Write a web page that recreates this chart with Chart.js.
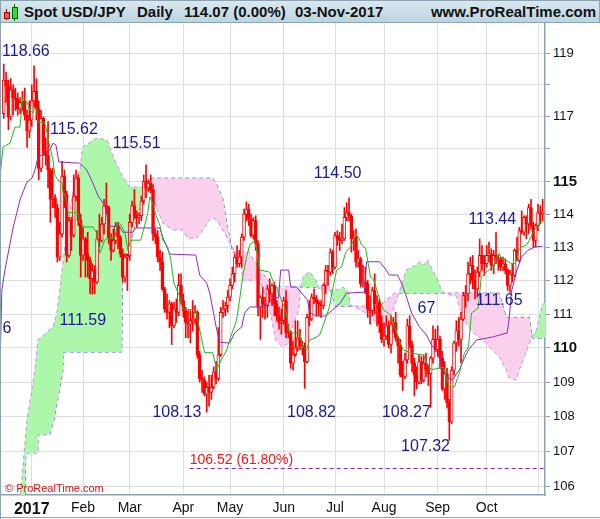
<!DOCTYPE html>
<html>
<head>
<meta charset="utf-8">
<script src="https://cdn.jsdelivr.net/npm/chart.js@4.4.0/dist/chart.umd.min.js"></script>
<style>
  body { margin: 0; background: #fff; }
  #wrap { position: relative; width: 600px; height: 519px; overflow: hidden; font-family: "Liberation Sans", Arial, sans-serif; }
  #hdr { position: absolute; left: 0; top: 0; width: 598px; height: 21px; border: 1px solid #8ea3b0; background: linear-gradient(#d8e8ef, #bcd5e1); }
  #hdr span { position: absolute; top: 0; line-height: 22px; font-weight: bold; font-size: 15px; color: #111; white-space: nowrap; }
  .ic { position: absolute; }
  canvas { position: absolute; left: 0; top: 22px; }
</style>
</head>
<body>
<div id="wrap">
  <div id="hdr">
    <div class="ic" style="left:5px;top:8px;width:1px;height:11px;background:#900"></div>
    <div class="ic" style="left:3px;top:11px;width:4px;height:5px;background:#f55;border:1px solid #900"></div>
    <div class="ic" style="left:13px;top:3px;width:1px;height:17px;background:#060"></div>
    <div class="ic" style="left:11px;top:6px;width:4px;height:10px;background:#3d3;border:1px solid #060"></div>
    <span style="left:23px">Spot USD/JPY</span>
    <span style="left:136px">Daily</span>
    <span style="left:183px">114.07 (0.00%)</span>
    <span style="left:294px">03-Nov-2017</span>
    <span style="right:3px">www.ProRealTime.com</span>
  </div>
  <canvas id="c" width="600" height="497"></canvas>
</div>
<script>
// trading-day index 0 = 2 Jan 2017, first bar = 15 Dec 2016
const firstDay = -12;

const opens = [
  117.10,118.15,117.95,117.00,117.85,117.60,117.55,117.25,117.45,117.50,117.05,116.55,
  116.90,117.50,117.80,117.25,115.40,116.95,115.95,115.80,115.35,114.45,114.50,114.20,112.70,113.40,115.15,114.60,112.75,113.80,113.35,114.55,115.10,113.80,
  112.75,113.25,112.80,112.60,112.05,112.30,111.95,113.25,113.20,113.70,114.25,114.20,113.25,112.90,113.20,113.65,113.30,112.80,112.10,112.70,
  112.75,113.75,114.25,113.95,113.90,113.95,114.40,115.00,114.80,114.95,114.75,113.40,113.30,112.70,112.55,111.75,111.15,111.05,111.30,110.65,111.15,111.05,111.85,
  111.40,111.10,110.75,110.70,110.80,110.85,111.05,109.80,109.10,109.05,108.65,108.85,108.70,108.85,109.30,109.10,109.80,111.05,111.15,111.25,
  111.50,111.85,112.20,112.70,112.50,112.70,113.30,114.00,114.15,113.85,113.35,113.80,113.10,111.20,111.50,111.30,111.25,111.75,111.60,111.85,111.30,110.95,110.75,
  110.80,111.40,110.45,110.45,109.55,109.80,110.00,110.30,110.05,110.05,109.60,110.90,110.85,111.50,111.45,111.35,111.30,111.25,111.85,112.30,112.25,112.85,
  112.40,113.35,113.25,113.20,113.25,113.90,114.05,113.95,113.25,113.30,112.55,112.65,111.90,111.95,111.90,111.15,111.10,111.70,111.30,111.35,110.70,
  110.25,110.35,110.65,110.10,110.70,110.75,110.30,110.05,109.20,109.15,109.65,110.65,110.10,109.55,109.20,109.00,109.60,109.05,109.55,109.35,109.25,109.70,110.25,
  109.95,110.25,109.70,108.80,109.25,108.40,107.85,109.35,110.15,110.50,110.25,110.85,111.55,111.60,112.20,112.45,112.00,111.75,112.25,112.75,112.50,
  112.50,112.75,112.80,112.45,112.75,112.60,112.65,112.40,112.50,112.30,111.85,112.20,112.15,112.90,112.60,113.50,113.45,113.90,113.70,114.20,113.65,113.20,113.65,114.05,114.00
];
const highs = [
  118.66,118.40,118.15,118.20,118.00,117.90,117.75,117.60,117.80,117.90,117.20,117.50,
  118.00,118.60,118.20,117.50,117.20,117.00,116.35,116.85,115.40,115.40,114.60,114.30,113.75,115.62,115.35,114.70,113.90,113.90,115.20,115.35,115.20,114.00,
  113.60,113.30,113.45,112.70,112.50,112.45,113.50,114.00,113.90,114.45,114.95,114.25,113.40,113.55,113.75,113.75,113.35,112.95,112.80,112.80,
  114.00,114.40,114.75,114.10,114.05,114.55,115.20,115.51,115.05,115.20,114.90,113.55,113.50,112.90,112.85,111.80,111.60,111.40,111.35,111.35,111.45,112.20,112.20,
  111.60,111.20,111.10,111.10,111.40,111.25,111.10,109.90,109.35,109.15,109.00,109.20,109.20,109.45,109.60,110.60,111.20,111.40,111.35,111.70,
  112.05,112.40,112.80,113.05,112.90,113.40,114.15,114.37,114.30,114.00,113.90,113.95,113.20,111.55,111.80,111.50,111.85,112.05,111.90,111.95,111.40,111.20,111.15,
  111.50,111.70,110.70,110.50,110.20,110.80,110.80,110.55,110.20,110.15,111.00,111.40,111.60,111.75,111.55,111.40,111.40,111.90,112.45,112.45,112.95,112.90,
  113.45,113.50,113.45,113.70,114.20,114.35,114.50,114.00,113.50,113.55,112.90,112.70,112.45,112.40,112.00,111.55,111.80,112.20,111.55,111.45,110.95,
  110.75,110.95,110.80,110.95,110.90,111.05,110.35,110.25,109.60,109.85,110.85,110.95,110.20,109.70,109.45,109.80,109.75,109.80,109.85,109.50,109.75,110.65,110.55,
  110.65,110.35,109.90,109.60,109.40,108.50,109.45,110.20,110.80,110.90,111.05,111.65,111.85,112.55,112.70,112.75,112.30,112.40,113.25,113.05,112.75,
  113.05,113.15,112.95,112.90,113.44,112.75,112.70,112.70,112.65,112.35,112.30,112.50,112.95,113.30,113.60,114.10,113.95,113.95,114.30,114.45,113.75,113.70,114.30,114.25,114.45
];
const lows = [
  116.95,117.45,116.60,116.90,117.05,117.20,117.05,117.10,117.20,116.90,116.05,116.35,
  116.70,117.30,116.90,115.05,115.30,115.80,115.50,114.80,113.75,114.20,113.90,112.55,112.60,113.30,114.20,112.55,112.70,112.90,113.30,114.40,113.65,112.10,
  112.60,112.10,112.10,111.60,111.59,111.60,111.90,113.00,113.15,113.40,114.00,113.10,112.60,112.85,113.10,112.95,112.70,111.95,111.95,111.70,
  112.60,113.60,113.85,113.60,113.70,113.80,114.30,114.50,114.70,114.65,113.20,113.10,112.55,112.30,111.70,111.05,110.85,110.60,110.10,110.60,110.75,110.95,111.30,
  110.90,110.30,110.30,110.15,110.50,110.70,109.70,109.00,108.70,108.60,108.13,108.30,108.50,108.80,108.95,109.05,109.75,110.90,110.95,111.05,
  111.40,111.75,111.95,112.40,112.40,112.40,113.20,113.80,113.65,113.30,113.25,112.90,110.95,110.25,110.90,110.85,110.90,111.35,111.25,110.95,110.80,110.55,110.40,
  110.70,110.30,110.30,109.40,109.35,109.75,109.90,109.95,109.80,108.82,109.55,110.65,110.80,111.30,110.95,110.95,110.90,111.15,111.60,111.85,112.15,112.20,
  112.35,113.05,112.90,113.10,113.20,113.80,113.80,112.85,112.90,112.40,112.40,111.80,111.80,111.60,110.90,110.70,110.95,111.00,110.65,110.45,110.15,
  110.05,110.25,110.00,109.85,110.45,110.20,109.55,109.15,108.75,109.10,109.55,110.00,109.30,108.60,108.80,108.95,108.95,109.00,109.15,108.90,108.27,109.55,109.90,
  109.75,109.40,108.75,108.50,108.25,107.32,107.80,109.20,109.90,110.05,109.55,110.80,111.20,111.40,111.90,111.75,111.45,111.50,112.10,112.30,112.15,
  112.40,112.55,112.30,112.20,112.50,112.30,112.30,112.30,112.20,111.70,111.65,111.95,112.10,112.60,112.55,113.40,113.35,113.25,113.40,113.55,113.00,113.00,113.50,113.70,113.80
];
const closes = [
  118.15,117.95,117.00,117.85,117.60,117.55,117.25,117.45,117.50,117.05,116.55,116.90,
  117.50,117.80,117.25,115.40,116.95,115.95,115.80,115.35,114.45,114.50,114.20,112.70,113.40,115.15,114.60,112.75,113.80,113.35,114.55,115.10,113.80,112.75,
  113.25,112.80,112.60,112.05,112.30,111.95,113.25,113.20,113.70,114.25,114.20,113.25,112.90,113.20,113.65,113.30,112.80,112.10,112.70,112.75,
  113.75,114.25,113.95,113.90,113.95,114.40,115.00,114.80,114.95,114.75,113.40,113.30,112.70,112.55,111.75,111.15,111.05,111.30,110.65,111.15,111.05,111.85,111.40,
  111.10,110.75,110.70,110.80,110.85,111.05,109.80,109.10,109.05,108.65,108.85,108.70,108.85,109.30,109.10,109.80,111.05,111.15,111.25,111.50,
  111.85,112.20,112.70,112.50,112.70,113.30,114.00,114.15,113.85,113.35,113.80,113.10,111.20,111.50,111.30,111.25,111.75,111.60,111.85,111.30,110.95,110.75,110.80,
  111.40,110.45,110.45,109.55,109.80,110.00,110.30,110.05,110.05,109.60,110.90,110.85,111.50,111.45,111.35,111.30,111.25,111.85,112.30,112.25,112.85,112.40,
  113.35,113.25,113.20,113.25,113.90,114.05,113.95,113.25,113.30,112.55,112.65,111.90,111.95,111.90,111.15,111.10,111.70,111.30,111.35,110.70,110.25,
  110.35,110.65,110.10,110.70,110.75,110.30,110.05,109.20,109.15,109.65,110.65,110.10,109.55,109.20,109.00,109.60,109.05,109.55,109.35,109.25,109.70,110.25,109.95,
  110.25,109.70,108.80,109.25,108.40,107.85,109.35,110.15,110.50,110.25,110.85,111.55,111.60,112.20,112.45,112.00,111.75,112.25,112.75,112.50,112.50,
  112.75,112.80,112.45,112.75,112.60,112.65,112.40,112.50,112.30,111.85,112.20,112.15,112.90,112.60,113.50,113.45,113.90,113.70,114.20,113.65,113.20,113.65,114.05,114.00,114.07
];

const monthTicks = [0, 22, 42, 65, 85, 108, 130, 151, 174, 195, 217];
const monthLabels = ['2017', 'Feb', 'Mar', 'Apr', 'May', 'Jun', 'Jul', 'Aug', 'Sep', 'Oct', ''];
const priceTicks = [106, 107, 108, 109, 110, 111, 112, 113, 114, 115, 116, 117, 118, 119];
const unlabelledPrices = [116, 118];
const boldPrices = [110, 115];

// [day index, price] vertices
const tenkan = [[-13.6,115.13],[-12.3,116.06],[-9.3,116.18],[-7.2,116.68],[-5.05,116.68],[-3.8,117.59],[-2.05,117.46],[-0.8,117.21],[0.5,117.12],[1.4,117.31],[2.2,117.21],[2.65,116.84],[5.65,116.81],[7.8,116.06],[9.1,115.66],[9.9,115.2],[11.2,115.04],[12.9,114.98],[13.4,114.68],[15.1,114.43],[15.5,114.06],[19.8,114.03],[20.6,113.73],[22.8,113.61],[26.2,113.61],[27.9,113.43],[29.2,112.82],[31.3,113.21],[32.6,113.27],[35.6,113.27],[36.9,113.76],[38.2,113.67],[39.9,113.45],[41.2,112.91],[42.5,113.21],[46.7,113.21],[48.5,113.67],[49.7,114.03],[50.6,114.52],[51.9,114.34],[53.2,113.97],[54.9,113.67],[56.2,113.21],[58.3,113.0],[59.6,112.62],[60.9,111.93],[63.5,111.51],[64.7,111.15],[70.3,111.12],[72.0,110.53],[74.1,109.86],[77.6,109.86],[79.3,109.36],[80.6,109.56],[83.6,109.94],[84.8,110.23],[87.8,110.82],[89.1,111.42],[90.4,112.1],[92.1,112.7],[93.4,113.06],[95.5,113.21],[96.4,112.91],[97.7,112.31],[102.0,112.25],[103.2,112.01],[104.9,111.8],[107.5,111.33],[108.8,111.12],[110.5,110.44],[114.8,110.44],[116.1,110.03],[117.8,109.94],[119.1,110.23],[122.1,110.32],[123.4,110.38],[124.7,110.62],[127.6,111.21],[128.9,111.71],[130.7,112.31],[132.8,112.4],[134.6,112.85],[136.6,113.0],[138.8,113.36],[140.1,113.3],[141.4,113.06],[143.1,112.97],[145.2,112.1],[146.5,112.04],[149.5,111.36],[150.8,111.12],[153.8,110.97],[155.0,110.73],[158.0,110.14],[159.3,109.94],[162.8,109.85],[167.9,109.79],[169.2,109.56],[171.3,109.36],[176.5,109.44],[177.7,109.15],[179.0,108.86],[181.2,108.86],[183.3,109.27],[185.5,109.86],[187.2,110.03],[188.5,111.03],[191.4,111.18],[192.7,112.1],[195.7,112.31],[197.9,112.38],[199.1,112.7],[200.4,112.82],[201.3,112.67],[204.3,112.56],[206.4,112.47],[207.7,112.56],[209.0,112.97],[212.0,113.06],[213.3,113.21],[215.5,113.51],[217.5,113.73],[219.0,113.76]];

const kijun = [[-13.6,109.43],[-12.8,111.71],[-11.5,112.31],[-8.0,113.58],[-5.05,114.43],[-2.05,114.98],[0.1,115.1],[1.4,115.35],[2.65,115.75],[4.8,115.84],[7.8,115.97],[9.1,116.18],[10.4,116.12],[11.6,115.6],[20.6,115.56],[23.6,115.35],[26.2,114.95],[28.3,114.58],[30.5,114.34],[32.2,114.18],[32.6,113.64],[37.8,113.61],[39.0,113.45],[43.3,113.45],[44.6,113.58],[54.9,113.58],[56.2,113.3],[57.9,113.0],[59.2,112.79],[70.3,112.76],[72.0,112.16],[75.0,111.92],[76.3,111.62],[77.1,111.33],[79.3,110.53],[80.6,110.17],[84.8,110.14],[87.0,110.44],[90.0,110.62],[91.3,111.03],[93.4,111.21],[99.8,111.21],[103.7,111.48],[105.8,111.48],[106.7,112.31],[110.1,112.31],[111.0,111.8],[113.5,111.8],[116.5,111.56],[118.2,111.42],[119.1,111.06],[121.7,110.94],[125.9,110.94],[128.9,111.12],[132.3,111.33],[134.9,111.62],[142.6,111.65],[143.5,112.56],[149.1,112.56],[151.2,112.38],[153.3,112.16],[156.8,112.16],[158.5,111.92],[160.6,111.51],[162.8,111.03],[166.2,110.62],[169.2,110.38],[171.3,110.09],[174.7,109.79],[176.0,109.41],[177.7,109.15],[180.3,109.06],[183.3,109.36],[185.5,109.71],[187.2,109.94],[190.6,110.23],[197.4,110.32],[203.8,110.44],[204.7,110.9],[205.6,111.65],[207.7,112.25],[209.9,112.7],[212.8,112.91],[215.5,113.0],[219.0,113.03]];

const spanA = [[-5.05,105.6],[-2.05,107.9],[1.4,109.35],[2.65,110.23],[9.1,110.62],[10.8,111.02],[13.4,112.53],[15.1,113.6],[18.5,115.04],[20.6,115.35],[21.9,116.06],[27.9,116.34],[32.2,116.28],[35.6,115.65],[39.1,115.13],[42.0,114.83],[46.3,114.83],[49.3,114.74],[50.6,114.65],[56.2,113.73],[60.4,113.52],[64.7,113.52],[66.9,113.27],[70.7,113.27],[73.3,113.52],[77.1,113.91],[79.3,113.82],[82.7,113.42],[86.6,112.91],[89.6,112.61],[90.4,112.01],[96.8,112.01],[98.5,111.86],[100.3,111.5],[102.4,111.02],[104.5,110.23],[107.5,110.03],[110.1,110.14],[112.2,110.72],[114.4,111.1],[115.2,111.77],[116.5,112.14],[119.1,112.26],[121.7,112.01],[123.4,111.71],[130.7,111.71],[133.6,111.8],[135.8,111.65],[136.6,111.26],[139.6,111.17],[143.5,111.02],[147.8,110.75],[150.8,110.72],[153.8,110.9],[155.9,111.32],[158.5,111.86],[160.6,112.32],[164.9,112.47],[166.2,112.56],[168.3,112.47],[169.6,112.62],[171.3,112.38],[173.5,112.1],[175.6,111.71],[177.7,111.59],[182.0,111.53],[183.3,111.2],[186.3,110.72],[188.9,110.46],[191.9,110.31],[194.9,110.14],[197.4,109.94],[200.4,109.74],[203.4,109.36],[204.7,109.12],[207.7,109.06],[209.0,109.36],[211.1,109.74],[213.3,110.14],[214.6,110.38],[216.3,110.52],[217.5,110.87],[218.8,111.26],[220.0,111.35]];

const spanB = [[-5.05,105.0],[-2.9,105.6],[-2.5,106.96],[2.65,106.96],[2.65,107.48],[7.8,107.48],[9.5,107.9],[13.4,109.35],[13.4,109.88],[38.6,109.88],[39.0,112.41],[41.2,112.91],[43.3,113.36],[45.0,113.91],[47.6,114.43],[49.3,115.04],[51.9,115.1],[77.6,115.1],[79.3,114.89],[81.9,114.49],[83.6,113.73],[84.8,113.3],[86.1,112.85],[93.0,112.85],[97.3,112.38],[100.3,112.1],[103.7,111.8],[127.6,111.8],[130.2,111.23],[149.1,111.23],[155.5,111.62],[200.4,111.62],[203.4,110.9],[213.3,110.9],[214.6,110.29],[220.0,110.29]];

const swingNotes = [
  { text: '118.66', day: -2.5, price: 119.06 },
  { text: '115.62', day: 18.1, price: 116.59 },
  { text: '115.51', day: 45.0, price: 116.18 },
  { text: '114.50', day: 131.1, price: 115.24 },
  { text: '113.44', day: 197.4, price: 113.84 },
  { text: '111.59', day: 21.9, price: 110.82 },
  { text: '6', day: -10.6, price: 110.58 },
  { text: '108.13', day: 62.2, price: 108.12 },
  { text: '108.82', day: 119.9, price: 108.12 },
  { text: '108.27', day: 160.6, price: 108.12 },
  { text: '107.32', day: 168.8, price: 107.14 },
  { text: '67', day: 169.2, price: 111.16 },
  { text: '111.65', day: 200.4, price: 111.40 }
];
const fiboLevel = 106.52;
const fiboFrom = 67.7;
const fiboText = '106.52 (61.80%)';
const fiboTextPrice = 106.74;

const FONT = '"Liberation Sans", Arial, sans-serif';
const days = closes.map((c, i) => firstDay + i);
const xy = (pts) => pts.map(([x, y]) => ({ x, y }));

const notesPlugin = {
  id: 'notes',
  afterDatasetsDraw(chart) {
    const { ctx, chartArea: a, scales: { x, y } } = chart;
    ctx.save();
    ctx.beginPath();
    ctx.rect(a.left, a.top, a.right - a.left, a.bottom - a.top);
    ctx.clip();

    const fy = Math.round(y.getPixelForValue(fiboLevel)) + 0.5;
    ctx.strokeStyle = '#8a22c8';
    ctx.lineWidth = 1;
    ctx.setLineDash([4, 3]);
    ctx.beginPath();
    ctx.moveTo(x.getPixelForValue(fiboFrom), fy);
    ctx.lineTo(a.right, fy);
    ctx.stroke();
    ctx.setLineDash([]);

    ctx.textBaseline = 'middle';
    ctx.textAlign = 'left';
    ctx.fillStyle = '#ff1010';
    ctx.font = '14px ' + FONT;
    ctx.fillText(fiboText, x.getPixelForValue(fiboFrom), y.getPixelForValue(fiboTextPrice));

    ctx.textAlign = 'center';
    ctx.fillStyle = '#1a1a96';
    ctx.font = '16px ' + FONT;
    swingNotes.forEach((n) => {
      ctx.fillText(n.text, x.getPixelForValue(n.day), y.getPixelForValue(n.price));
    });

    ctx.textAlign = 'left';
    ctx.fillStyle = '#e81010';
    ctx.font = '11px ' + FONT;
    ctx.fillText('\u00a9 ProRealTime.com', 5, a.bottom - 6);
    ctx.restore();

    ctx.save();
    ctx.strokeStyle = '#8ea3b0';
    ctx.lineWidth = 1;
    ctx.beginPath();
    ctx.moveTo(0.5, 0);
    ctx.lineTo(0.5, chart.height);
    ctx.moveTo(0, chart.height - 1.5);
    ctx.lineTo(chart.width, chart.height - 1.5);
    ctx.stroke();
    ctx.restore();
  }
};

new Chart(document.getElementById('c'), {
  type: 'bar',
  data: {
    datasets: [
      {
        type: 'line',
        label: 'tenkan',
        data: xy(tenkan),
        borderColor: '#1fb81f',
        borderWidth: 1,
        pointRadius: 0,
        fill: false,
        order: 0
      },
      {
        type: 'line',
        label: 'kijun',
        data: xy(kijun),
        borderColor: '#9028c4',
        borderWidth: 1,
        pointRadius: 0,
        fill: false,
        order: 1
      },
      {
        type: 'bar',
        label: 'bodies',
        data: days.map((d, i) => {
          const lo = Math.min(opens[i], closes[i]);
          const hi = Math.max(opens[i], closes[i]);
          return { x: d, y: [lo, hi === lo ? hi + 0.02 : hi] };
        }),
        backgroundColor: days.map((d, i) => (closes[i] > opens[i] ? '#ffffff' : '#ff0000')),
        borderColor: '#ff0000',
        borderWidth: 1,
        borderSkipped: false,
        barThickness: 3,
        grouped: false,
        order: 2
      },
      {
        type: 'bar',
        label: 'wicks',
        data: days.map((d, i) => ({ x: d, y: [lows[i], highs[i]] })),
        backgroundColor: '#ff0000',
        borderWidth: 0,
        barThickness: 1,
        grouped: false,
        order: 3
      },
      {
        type: 'line',
        label: 'spanA',
        data: xy(spanA),
        borderColor: '#c48ef0',
        borderWidth: 1,
        borderDash: [4, 3],
        pointRadius: 0,
        fill: { target: 5, above: 'rgba(172, 247, 170, 1)', below: 'rgba(251, 208, 236, 1)' },
        order: 4
      },
      {
        type: 'line',
        label: 'spanB',
        data: xy(spanB),
        borderColor: '#3a55e6',
        borderWidth: 1,
        borderDash: [4, 3],
        pointRadius: 0,
        fill: false,
        order: 5
      }
    ]
  },
  options: {
    responsive: false,
    animation: false,
    events: [],
    layout: { padding: { top: 1, left: 0, right: 0, bottom: 0 } },
    plugins: {
      legend: { display: false },
      tooltip: { enabled: false }
    },
    scales: {
      x: {
        type: 'linear',
        min: -13.6,
        max: 220,
        offset: false,
        afterBuildTicks: (s) => { s.ticks = monthTicks.map((v) => ({ value: v })); },
        afterFit: (s) => { s.height = 24; s.paddingLeft = 0; s.paddingRight = 0; },
        grid: { color: '#dedede', offset: false, drawTicks: false },
        border: { display: true, color: '#8ea3b0', width: 1.5 },
        ticks: {
          padding: 5,
          maxRotation: 0,
          autoSkip: false,
          color: '#111',
          callback: (v) => monthLabels[monthTicks.indexOf(v)] ?? '',
          font: (c) => (c.tick && c.tick.value === 0
            ? { family: FONT, size: 16, weight: 'bold' }
            : { family: FONT, size: 14 })
        }
      },
      y: {
        type: 'logarithmic',
        position: 'right',
        min: 105.765,
        max: 119.967,
        afterBuildTicks: (s) => { s.ticks = priceTicks.map((v) => ({ value: v })); },
        afterFit: (s) => { s.width = 55; s.paddingTop = 0; s.paddingBottom = 0; },
        grid: { color: '#dedede', tickColor: '#8ea3b0', tickLength: 5 },
        border: { display: true, color: '#8ea3b0', width: 1.5 },
        ticks: {
          padding: 3,
          color: '#111',
          autoSkip: false,
          callback: (v) => (unlabelledPrices.includes(v) ? '' : String(v)),
          font: (c) => (c.tick && boldPrices.includes(c.tick.value)
            ? { family: FONT, size: 15, weight: 'bold' }
            : { family: FONT, size: 13 })
        }
      }
    }
  },
  plugins: [notesPlugin]
});
</script>
</body>
</html>
